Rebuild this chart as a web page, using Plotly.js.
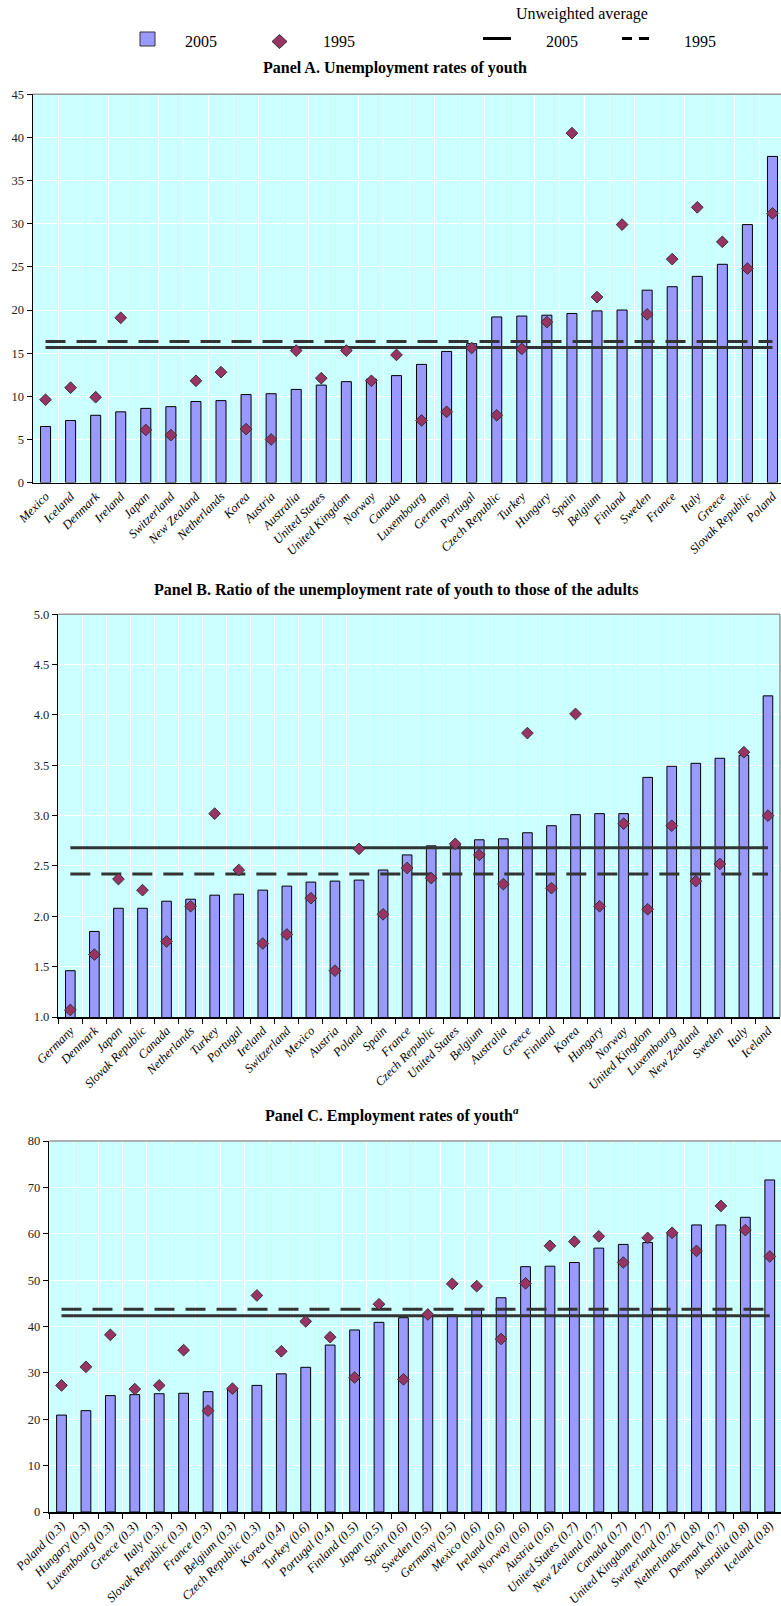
<!DOCTYPE html>
<html>
<head>
<meta charset="utf-8">
<script src="https://cdn.plot.ly/plotly-3.0.1.min.js"></script>
<style>html,body{margin:0;padding:0;background:#fff;overflow:hidden;}#chart{width:781px;height:1606px;}</style>
</head>
<body>
<div id="chart"></div>
<script>
// ---------- Data ----------
const catsA = ["Mexico","Iceland","Denmark","Ireland","Japan","Switzerland","New Zealand","Netherlands","Korea","Austria","Australia","United States","United Kingdom","Norway","Canada","Luxembourg","Germany","Portugal","Czech Republic","Turkey","Hungary","Spain","Belgium","Finland","Sweden","France","Italy","Greece","Slovak Republic","Poland"];
const a2005 = [6.5,7.2,7.8,8.2,8.6,8.8,9.4,9.5,10.2,10.3,10.8,11.3,11.7,12.0,12.4,13.7,15.2,16.1,19.2,19.3,19.4,19.6,19.9,20.0,22.3,22.7,23.9,25.3,29.9,37.8];
const a1995 = [9.6,11.0,9.9,19.1,6.1,5.5,11.8,12.8,6.2,5.0,15.3,12.1,15.3,11.8,14.8,7.2,8.2,15.6,7.8,15.5,18.6,40.5,21.5,29.9,19.5,25.9,31.9,27.9,24.8,31.2];
const avgA2005 = 15.65, avgA1995 = 16.35;

const catsB = ["Germany","Denmark","Japan","Slovak Republic","Canada","Netherlands","Turkey","Portugal","Ireland","Switzerland","Mexico","Austria","Poland","Spain","France","Czech Republic","United States","Belgium","Australia","Greece","Finland","Korea","Hungary","Norway","United Kingdom","Luxembourg","New Zealand","Sweden","Italy","Iceland"];
const b2005 = [1.46,1.85,2.08,2.08,2.15,2.17,2.21,2.22,2.26,2.30,2.34,2.35,2.36,2.46,2.61,2.70,2.71,2.76,2.77,2.83,2.90,3.01,3.02,3.02,3.38,3.49,3.52,3.57,3.60,4.19];
const b1995 = [1.07,1.62,2.37,2.26,1.75,2.10,3.02,2.46,1.73,1.82,2.18,1.46,2.67,2.02,2.48,2.38,2.72,2.61,2.32,3.82,2.28,4.01,2.10,2.92,2.07,2.90,2.35,2.52,3.63,3.00];
const avgB2005 = 2.68, avgB1995 = 2.42;

const catsC = ["Poland (0.3)","Hungary (0.3)","Luxembourg (0.3)","Greece (0.3)","Italy (0.3)","Slovak Republic (0.3)","France (0.3)","Belgium (0.3)","Czech Republic (0.3)","Korea (0.4)","Turkey (0.6)","Portugal (0.4)","Finland (0.5)","Japan (0.5)","Spain (0.6)","Sweden (0.5)","Germany (0.5)","Mexico (0.6)","Ireland (0.6)","Norway (0.6)","Austria (0.6)","United States (0.7)","New Zealand (0.7)","Canada (0.7)","United Kingdom (0.7)","Switzerland (0.7)","Netherlands (0.8)","Denmark (0.7)","Australia (0.8)","Iceland (0.8)"];
const c2005 = [20.9,21.85,25.1,25.3,25.5,25.6,25.95,26.5,27.3,29.8,31.2,36.0,39.25,40.9,41.9,42.4,42.5,43.7,46.2,52.9,53.0,53.8,56.9,57.7,58.1,60.1,61.9,61.9,63.55,71.6];
const c1995 = [27.3,31.3,38.2,26.5,27.3,34.9,21.85,26.6,46.7,34.65,41.1,37.7,29.0,44.8,28.6,42.6,49.2,48.7,37.3,49.3,57.4,58.3,59.45,53.8,59.1,60.2,56.3,66.0,60.8,55.1];
const avgC2005 = 42.3, avgC1995 = 43.7;

const titles = ["Panel A. Unemployment rates of youth",
                "Panel B. Ratio of the unemployment rate of youth to those of the adults",
                "Panel C. Employment rates of youth<sup><i>a</i></sup>"];
const legendLabels = ["2005", "1995", "Unweighted average", "2005", "1995"];

// ---------- Styling ----------
const W = 781, H = 1606;
const px = p => p / W;
const py = p => 1 - p / H;
const FONT = "'Liberation Serif', 'Times New Roman', Times, serif";
const BAR = "#9999FF", DIA = "#993366", LINE = "#333333", BG = "#CCFFFF";

function panelTraces(cats, v05, v95, avg05, avg95, xa, ya) {
  const first = cats[0], last = cats[cats.length - 1];
  return [
    {type: "bar", x: cats, y: v05, xaxis: xa, yaxis: ya, width: 0.4, name: "2005",
     marker: {color: BAR, line: {color: "#000", width: 1}}, showlegend: false},
    {type: "scatter", mode: "lines", x: [first, last], y: [avg05, avg05], xaxis: xa, yaxis: ya,
     line: {color: LINE, width: 3}, showlegend: false},
    {type: "scatter", mode: "lines", x: [first, last], y: [avg95, avg95], xaxis: xa, yaxis: ya,
     line: {color: LINE, width: 3, dash: "20px,11px"}, showlegend: false},
    {type: "scatter", mode: "markers", x: cats, y: v95, xaxis: xa, yaxis: ya, name: "1995",
     marker: {symbol: "diamond", size: 9, color: DIA, line: {color: "#333", width: 1}}, showlegend: false}
  ];
}

const data = [].concat(
  panelTraces(catsA, a2005, a1995, avgA2005, avgA1995, "x", "y"),
  panelTraces(catsB, b2005, b1995, avgB2005, avgB1995, "x2", "y2"),
  panelTraces(catsC, c2005, c1995, avgC2005, avgC1995, "x3", "y3")
);

function xAxis(domain, range, anchor, ticks) {
  return {domain: domain, anchor: anchor, type: "category", range: range, tickson: "boundaries",
    showgrid: true, gridcolor: "#FFFFFF", gridwidth: 1, ticks: ticks, ticklen: 5, tickcolor: "#000",
    tickangle: -45, tickfont: {family: FONT, size: 12.5, color: "#000", style: "italic"},
    showline: true, linecolor: "#000", linewidth: 1.5, zeroline: false, fixedrange: true};
}
function yAxis(domain, range, dtick, anchor, fmt) {
  return {domain: domain, anchor: anchor, range: range, dtick: dtick, tick0: range[0], tickformat: fmt,
    showgrid: true, gridcolor: "#FFFFFF", gridwidth: 1, ticks: "outside", ticklen: 5, tickcolor: "#000",
    tickfont: {family: FONT, size: 12.5, color: "#222"}, showline: true, linecolor: "#000", linewidth: 1.5,
    zeroline: false, fixedrange: true};
}

function label(text, x, y, size) {
  return {text: text, x: px(x), y: py(y), xref: "paper", yref: "paper", xanchor: "center", yanchor: "middle",
          showarrow: false, font: {family: FONT, size: size, color: "#000"}};
}

const layout = {
  width: W, height: H, margin: {l: 0, r: 0, t: 0, b: 0},
  paper_bgcolor: "#FFFFFF", plot_bgcolor: BG, showlegend: false, bargap: 0,
  font: {family: FONT, color: "#000"},
  xaxis:  xAxis([px(33), 1], [-0.5, 29.34], "y", ""),
  yaxis:  yAxis([py(482.6), py(94.3)], [0, 45], 5, "x", ""),
  xaxis2: xAxis([px(58.3), px(780)], [-0.5, 29.5], "y2", "outside"),
  yaxis2: yAxis([py(1017), py(614.3)], [1, 5], 0.5, "x2", ".1f"),
  xaxis3: xAxis([px(49.3), 1], [-0.5, 29.46], "y3", "outside"),
  yaxis3: yAxis([py(1512), py(1141)], [0, 80], 10, "x3", ""),
  annotations: [
    label("<b>" + titles[0] + "</b>", 395, 68, 16),
    label("<b>" + titles[1] + "</b>", 396, 590, 16),
    label("<b>" + titles[2] + "</b>", 392, 1114, 16),
    label(legendLabels[2], 582, 14, 16),
    label(legendLabels[0], 201, 42, 16),
    label(legendLabels[1], 339, 42, 16),
    label(legendLabels[3], 562, 42, 16),
    label(legendLabels[4], 700, 42, 16)
  ],
  shapes: [
    // legend symbols
    {type: "rect", xref: "paper", yref: "paper", x0: px(140), x1: px(155), y0: py(46), y1: py(32), fillcolor: BAR, line: {color: "#333", width: 1}},
    {type: "path", xref: "paper", yref: "paper",
     path: `M ${px(272)},${py(41.5)} L ${px(279.5)},${py(34.5)} L ${px(287)},${py(41.5)} L ${px(279.5)},${py(48.5)} Z`,
     fillcolor: DIA, line: {color: "#333", width: 1}},
    {type: "line", xref: "paper", yref: "paper", x0: px(483), x1: px(511), y0: py(38.5), y1: py(38.5), line: {color: "#000", width: 3}},
    {type: "line", xref: "paper", yref: "paper", x0: px(622), x1: px(649), y0: py(38.5), y1: py(38.5), line: {color: "#000", width: 3, dash: "10px,7px"}},
    // plot frames (top / right in grey)
    {type: "line", xref: "x domain", yref: "y domain", x0: 0, x1: 1, y0: 1, y1: 1, line: {color: "#999", width: 1.5}},
    {type: "line", xref: "x2 domain", yref: "y2 domain", x0: 0, x1: 1, y0: 1, y1: 1, line: {color: "#999", width: 1.5}},
    {type: "line", xref: "x2 domain", yref: "y2 domain", x0: 1, x1: 1, y0: 0, y1: 1, line: {color: "#999", width: 1.5}},
    {type: "line", xref: "x3 domain", yref: "y3 domain", x0: 0, x1: 1, y0: 1, y1: 1, line: {color: "#999", width: 1.5}}
  ]
};

Plotly.newPlot("chart", data, layout, {staticPlot: true, displayModeBar: false});
</script>
</body>
</html>
